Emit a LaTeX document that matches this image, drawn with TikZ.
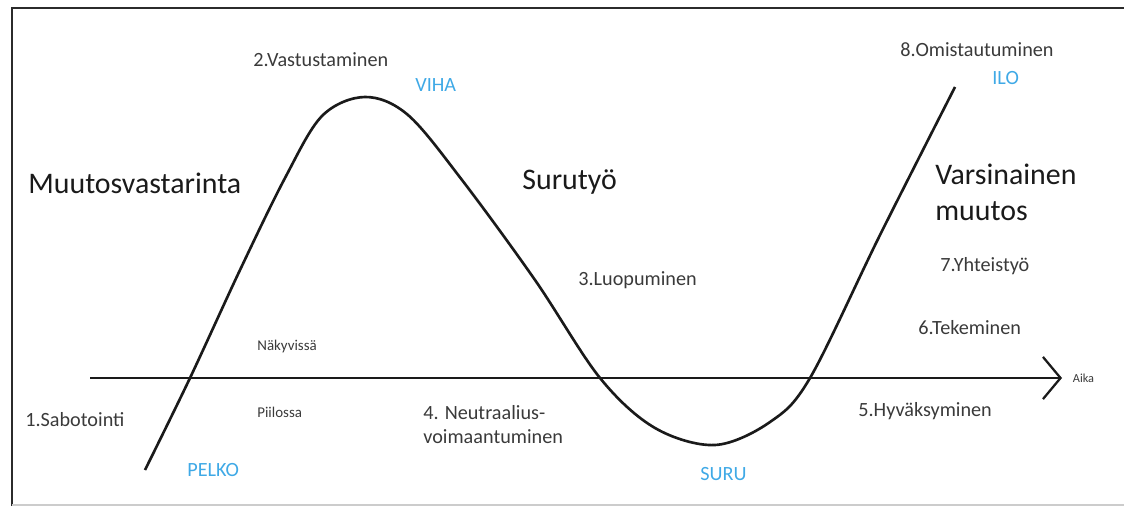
\documentclass[tikz,border=0pt]{standalone}
\usepackage{fontspec}
\setmainfont{Carlito}
\usetikzlibrary{arrows.meta,positioning}
\definecolor{ink}{HTML}{1A1A1A}
\definecolor{label}{HTML}{3A3A3A}
\definecolor{sky}{HTML}{3FA9E6}
\definecolor{frameline}{HTML}{2B2B2B}

\begin{document}
\begin{tikzpicture}[x=0.02cm,y=-0.02cm,
  phase/.style={anchor=west,inner sep=0pt,text=ink,font=\fontsize{17}{20}\selectfont},
  stage/.style={anchor=west,inner sep=0pt,text=label,font=\fontsize{11.5}{14}\selectfont},
  feeling/.style={anchor=west,inner sep=0pt,text=sky,font=\fontsize{11.5}{14}\selectfont},
  side/.style={anchor=west,inner sep=0pt,text=label,font=\fontsize{8.5}{10}\selectfont},
  axis/.style={-{Straight Barb[length=10pt,width=24pt,line width=1.3pt]},line width=1.4pt,draw=ink},
  curve/.style={line width=1.5pt,draw=ink}
]
\useasboundingbox (0,0) rectangle (1124,506);

% frame
\draw[line width=1.6pt,frameline] (12,506) -- (12,8) -- (1124,8);
\draw[black!20,line width=0.6pt] (12,505) -- (1124,505);

% time axis
\coordinate (axisstart) at (90,378);
\coordinate (axisend) at (1062,378);
\draw[axis] (axisstart) -- (axisend);
\node[side,font=\fontsize{7}{8}\selectfont,right=6pt of axisend] (aika) {Aika};

% change curve
\draw[curve] plot[smooth,tension=0.55] coordinates {
  (145,470) (190,378) (240,270) (285,178) (322,116) (365,97) (408,115)
  (462,180) (535,280) (600,378) (655,428) (715,445) (770,422) (810,378)
  (880,235) (955,87)};

% phases
\node[phase] (resist) at (28,183) {Muutosvastarinta};
\node[phase] (grief) at (522,182) {Surutyö};
\node[phase,align=left,anchor=north west] (change) at (935,164) {Varsinainen\\muutos};

% stages
\node[stage] (sabotage) at (25,420) {1.Sabotointi};
\node[stage] (oppose) at (253,60) {2.Vastustaminen};
\node[stage] (letgo) at (578,280) {3.Luopuminen};
\node[stage,align=left,anchor=north west] (neutral) at (423,405)
  {4. Neutraalius-\\voimaantuminen};
\node[stage] (accept) at (858,411) {5.Hyväksyminen};
\node[stage] (doing) at (918,328) {6.Tekeminen};
\node[stage] (together) at (940,266) {7.Yhteistyö};
\node[stage] (commit) at (900,50) {8.Omistautuminen};

% feelings
\node[feeling] (fear) at (187,470) {PELKO};
\node[feeling] (anger) at (415,85) {VIHA};
\node[feeling] (sorrow) at (700,474) {SURU};
\node[feeling] (joy) at (992,78) {ILO};

% above and below the axis
\node[side] (visible) at (257,347) {Näkyvissä};
\node[side] (hidden) at (257,412) {Piilossa};
\end{tikzpicture}
\end{document}
